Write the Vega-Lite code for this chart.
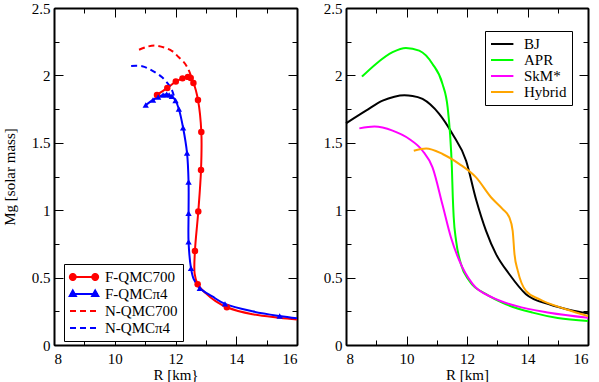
{
  "$schema": "https://vega.github.io/schema/vega-lite/v6.json",
  "padding": {"left": 1, "top": 0, "right": 5, "bottom": 2},
  "spacing": 20,
  "config": {
    "view": {"stroke": "black", "strokeWidth": 1},
    "legend": {"labelFont": "Liberation Serif", "labelFontSize": 15, "labelColor": "black"}
  },
  "datasets": {
    "qmc": [
      {"series": "F-QMC700", "i": 1, "R": 11.39, "M": 1.855},
      {"series": "F-QMC700", "i": 2, "R": 11.73, "M": 1.907},
      {"series": "F-QMC700", "i": 3, "R": 12.01, "M": 1.954},
      {"series": "F-QMC700", "i": 4, "R": 12.23, "M": 1.978},
      {"series": "F-QMC700", "i": 5, "R": 12.41, "M": 1.989},
      {"series": "F-QMC700", "i": 6, "R": 12.5, "M": 1.98},
      {"series": "F-QMC700", "i": 7, "R": 12.59, "M": 1.944},
      {"series": "F-QMC700", "i": 8, "R": 12.74, "M": 1.818},
      {"series": "F-QMC700", "i": 9, "R": 12.85, "M": 1.58},
      {"series": "F-QMC700", "i": 10, "R": 12.84, "M": 1.298},
      {"series": "F-QMC700", "i": 11, "R": 12.75, "M": 0.99},
      {"series": "F-QMC700", "i": 12, "R": 12.64, "M": 0.698},
      {"series": "F-QMC700", "i": 13, "R": 12.63, "M": 0.53},
      {"series": "F-QMC700", "i": 14, "R": 12.73, "M": 0.451},
      {"series": "F-QMC700", "i": 15, "R": 12.99, "M": 0.385},
      {"series": "F-QMC700", "i": 16, "R": 13.32, "M": 0.325},
      {"series": "F-QMC700", "i": 17, "R": 13.69, "M": 0.28},
      {"series": "F-QMC700", "i": 18, "R": 14.53, "M": 0.228},
      {"series": "F-QMC700", "i": 19, "R": 15.43, "M": 0.203},
      {"series": "F-QMC700", "i": 20, "R": 16, "M": 0.19},
      {"series": "F-QMCπ4", "i": 1, "R": 11.02, "M": 1.78},
      {"series": "F-QMCπ4", "i": 2, "R": 11.26, "M": 1.818},
      {"series": "F-QMCπ4", "i": 3, "R": 11.43, "M": 1.84},
      {"series": "F-QMCπ4", "i": 4, "R": 11.59, "M": 1.855},
      {"series": "F-QMCπ4", "i": 5, "R": 11.71, "M": 1.86},
      {"series": "F-QMCπ4", "i": 6, "R": 11.79, "M": 1.855},
      {"series": "F-QMCπ4", "i": 7, "R": 11.88, "M": 1.845},
      {"series": "F-QMCπ4", "i": 8, "R": 12.0, "M": 1.813},
      {"series": "F-QMCπ4", "i": 9, "R": 12.11, "M": 1.751},
      {"series": "F-QMCπ4", "i": 10, "R": 12.25, "M": 1.612},
      {"series": "F-QMCπ4", "i": 11, "R": 12.38, "M": 1.424},
      {"series": "F-QMCπ4", "i": 12, "R": 12.43, "M": 1.209},
      {"series": "F-QMCπ4", "i": 13, "R": 12.43, "M": 0.978},
      {"series": "F-QMCπ4", "i": 14, "R": 12.43, "M": 0.765},
      {"series": "F-QMCπ4", "i": 15, "R": 12.51, "M": 0.57},
      {"series": "F-QMCπ4", "i": 16, "R": 12.6, "M": 0.488},
      {"series": "F-QMCπ4", "i": 17, "R": 12.8, "M": 0.421},
      {"series": "F-QMCπ4", "i": 18, "R": 13.21, "M": 0.36},
      {"series": "F-QMCπ4", "i": 19, "R": 13.63, "M": 0.305},
      {"series": "F-QMCπ4", "i": 20, "R": 14.53, "M": 0.25},
      {"series": "F-QMCπ4", "i": 21, "R": 15.43, "M": 0.215},
      {"series": "F-QMCπ4", "i": 22, "R": 16, "M": 0.198},
      {"series": "N-QMC700", "i": 1, "R": 10.8, "M": 2.19},
      {"series": "N-QMC700", "i": 2, "R": 11.1, "M": 2.215},
      {"series": "N-QMC700", "i": 3, "R": 11.35, "M": 2.221},
      {"series": "N-QMC700", "i": 4, "R": 11.65, "M": 2.205},
      {"series": "N-QMC700", "i": 5, "R": 11.89, "M": 2.18},
      {"series": "N-QMC700", "i": 6, "R": 12.11, "M": 2.134},
      {"series": "N-QMC700", "i": 7, "R": 12.28, "M": 2.097},
      {"series": "N-QMC700", "i": 8, "R": 12.39, "M": 2.06},
      {"series": "N-QMC700", "i": 9, "R": 12.47, "M": 2.02},
      {"series": "N-QMC700", "i": 10, "R": 12.55, "M": 1.97},
      {"series": "N-QMCπ4", "i": 1, "R": 10.54, "M": 2.07},
      {"series": "N-QMCπ4", "i": 2, "R": 10.9, "M": 2.068},
      {"series": "N-QMCπ4", "i": 3, "R": 11.23, "M": 2.036},
      {"series": "N-QMCπ4", "i": 4, "R": 11.56, "M": 1.986},
      {"series": "N-QMCπ4", "i": 5, "R": 11.78, "M": 1.93},
      {"series": "N-QMCπ4", "i": 6, "R": 11.89, "M": 1.887},
      {"series": "N-QMCπ4", "i": 7, "R": 11.95, "M": 1.845}
    ],
    "qmcmk": [
      {"series": "F-QMC700", "R": 11.39, "M": 1.855},
      {"series": "F-QMC700", "R": 11.73, "M": 1.907},
      {"series": "F-QMC700", "R": 12.01, "M": 1.954},
      {"series": "F-QMC700", "R": 12.23, "M": 1.978},
      {"series": "F-QMC700", "R": 12.41, "M": 1.989},
      {"series": "F-QMC700", "R": 12.5, "M": 1.98},
      {"series": "F-QMC700", "R": 12.59, "M": 1.944},
      {"series": "F-QMC700", "R": 12.74, "M": 1.818},
      {"series": "F-QMC700", "R": 12.85, "M": 1.58},
      {"series": "F-QMC700", "R": 12.84, "M": 1.298},
      {"series": "F-QMC700", "R": 12.75, "M": 0.99},
      {"series": "F-QMC700", "R": 12.64, "M": 0.698},
      {"series": "F-QMC700", "R": 12.73, "M": 0.451},
      {"series": "F-QMC700", "R": 13.69, "M": 0.28},
      {"series": "F-QMCπ4", "R": 11.02, "M": 1.78},
      {"series": "F-QMCπ4", "R": 11.26, "M": 1.818},
      {"series": "F-QMCπ4", "R": 11.43, "M": 1.84},
      {"series": "F-QMCπ4", "R": 11.59, "M": 1.855},
      {"series": "F-QMCπ4", "R": 11.71, "M": 1.86},
      {"series": "F-QMCπ4", "R": 11.79, "M": 1.855},
      {"series": "F-QMCπ4", "R": 11.88, "M": 1.845},
      {"series": "F-QMCπ4", "R": 12.0, "M": 1.813},
      {"series": "F-QMCπ4", "R": 12.11, "M": 1.751},
      {"series": "F-QMCπ4", "R": 12.25, "M": 1.612},
      {"series": "F-QMCπ4", "R": 12.38, "M": 1.424},
      {"series": "F-QMCπ4", "R": 12.43, "M": 1.209},
      {"series": "F-QMCπ4", "R": 12.43, "M": 0.978},
      {"series": "F-QMCπ4", "R": 12.43, "M": 0.765},
      {"series": "F-QMCπ4", "R": 12.51, "M": 0.57},
      {"series": "F-QMCπ4", "R": 12.8, "M": 0.421},
      {"series": "F-QMCπ4", "R": 13.63, "M": 0.305},
      {"series": "F-QMCπ4", "R": 15.43, "M": 0.215}
    ],
    "eos": [
      {"eos": "BJ", "R": 8, "M": 1.644},
      {"eos": "BJ", "R": 8.66, "M": 1.738},
      {"eos": "BJ", "R": 9.21, "M": 1.813},
      {"eos": "BJ", "R": 9.6, "M": 1.842},
      {"eos": "BJ", "R": 9.93, "M": 1.852},
      {"eos": "BJ", "R": 10.2, "M": 1.848},
      {"eos": "BJ", "R": 10.53, "M": 1.825},
      {"eos": "BJ", "R": 11.08, "M": 1.714},
      {"eos": "BJ", "R": 11.52, "M": 1.565},
      {"eos": "BJ", "R": 11.97, "M": 1.367},
      {"eos": "BJ", "R": 12.3, "M": 1.08},
      {"eos": "BJ", "R": 12.63, "M": 0.847},
      {"eos": "BJ", "R": 12.96, "M": 0.674},
      {"eos": "BJ", "R": 13.4, "M": 0.525},
      {"eos": "BJ", "R": 13.95, "M": 0.377},
      {"eos": "BJ", "R": 14.72, "M": 0.302},
      {"eos": "BJ", "R": 15.4, "M": 0.26},
      {"eos": "BJ", "R": 16, "M": 0.235},
      {"eos": "APR", "R": 8.53, "M": 1.991},
      {"eos": "APR", "R": 8.99, "M": 2.085},
      {"eos": "APR", "R": 9.54, "M": 2.172},
      {"eos": "APR", "R": 9.98, "M": 2.204},
      {"eos": "APR", "R": 10.42, "M": 2.184},
      {"eos": "APR", "R": 10.86, "M": 2.085},
      {"eos": "APR", "R": 11.19, "M": 1.937},
      {"eos": "APR", "R": 11.36, "M": 1.763},
      {"eos": "APR", "R": 11.44, "M": 1.565},
      {"eos": "APR", "R": 11.5, "M": 1.317},
      {"eos": "APR", "R": 11.53, "M": 1.1},
      {"eos": "APR", "R": 11.56, "M": 0.95},
      {"eos": "APR", "R": 11.64, "M": 0.773},
      {"eos": "APR", "R": 11.8, "M": 0.6},
      {"eos": "APR", "R": 12.08, "M": 0.475},
      {"eos": "APR", "R": 12.63, "M": 0.377},
      {"eos": "APR", "R": 13.29, "M": 0.302},
      {"eos": "APR", "R": 14.17, "M": 0.24},
      {"eos": "APR", "R": 15, "M": 0.2},
      {"eos": "APR", "R": 16, "M": 0.178},
      {"eos": "SkM*", "R": 8.44, "M": 1.607},
      {"eos": "SkM*", "R": 8.94, "M": 1.62},
      {"eos": "SkM*", "R": 9.54, "M": 1.59},
      {"eos": "SkM*", "R": 10.09, "M": 1.528},
      {"eos": "SkM*", "R": 10.53, "M": 1.441},
      {"eos": "SkM*", "R": 10.86, "M": 1.317},
      {"eos": "SkM*", "R": 11.19, "M": 1.04},
      {"eos": "SkM*", "R": 11.47, "M": 0.797},
      {"eos": "SkM*", "R": 11.75, "M": 0.624},
      {"eos": "SkM*", "R": 12.19, "M": 0.451},
      {"eos": "SkM*", "R": 12.85, "M": 0.351},
      {"eos": "SkM*", "R": 13.62, "M": 0.29},
      {"eos": "SkM*", "R": 14.72, "M": 0.24},
      {"eos": "SkM*", "R": 16, "M": 0.203},
      {"eos": "Hybrid", "R": 10.24, "M": 1.441},
      {"eos": "Hybrid", "R": 10.65, "M": 1.458},
      {"eos": "Hybrid", "R": 11.19, "M": 1.417},
      {"eos": "Hybrid", "R": 11.75, "M": 1.342},
      {"eos": "Hybrid", "R": 12.3, "M": 1.243},
      {"eos": "Hybrid", "R": 12.8, "M": 1.094},
      {"eos": "Hybrid", "R": 13.18, "M": 1.008},
      {"eos": "Hybrid", "R": 13.4, "M": 0.946},
      {"eos": "Hybrid", "R": 13.51, "M": 0.847},
      {"eos": "Hybrid", "R": 13.57, "M": 0.674},
      {"eos": "Hybrid", "R": 13.68, "M": 0.55},
      {"eos": "Hybrid", "R": 13.95, "M": 0.401},
      {"eos": "Hybrid", "R": 14.39, "M": 0.34},
      {"eos": "Hybrid", "R": 15.27, "M": 0.265},
      {"eos": "Hybrid", "R": 16, "M": 0.215}
    ]
  },
  "resolve": {"scale": {"x": "independent", "y": "independent", "color": "independent"}, "legend": {"color": "independent"}},
  "hconcat": [
    {
      "width": 243,
      "height": 337,
      "resolve": {"axis": {"x": "independent", "y": "independent"}},
      "layer": [
        {
          "data": {"name": "qmc"},
          "transform": [{"filter": "indexof(datum.series, 'F-') === 0"}],
          "mark": {"type": "line", "strokeWidth": 2, "interpolate": "catmull-rom"},
          "encoding": {
            "x": {"field": "R", "type": "quantitative", "scale": {"domain": [8, 16], "nice": false, "zero": false},
              "axis": {"orient": "bottom", "values": [8, 10, 12, 14, 16], "format": "~g", "grid": false, "domain": true, "domainColor": "black", "domainWidth": 2, "ticks": true, "tickColor": "black", "tickWidth": 1, "tickSize": -9, "labelPadding": 15, "labelFont": "Liberation Serif", "labelFontSize": 15, "labelColor": "black", "title": "R [km}", "titlePadding": 1, "titleFont": "Liberation Serif", "titleFontSize": 15, "titleFontWeight": "normal", "titleColor": "black"}},
            "y": {"field": "M", "type": "quantitative", "scale": {"domain": [0, 2.5], "nice": false},
              "axis": {"orient": "left", "values": [0, 0.5, 1, 1.5, 2, 2.5], "format": "~g", "grid": false, "domain": true, "domainColor": "black", "domainWidth": 2, "ticks": true, "tickColor": "black", "tickWidth": 1, "tickSize": -9, "labelPadding": 13, "labelFont": "Liberation Serif", "labelFontSize": 15, "labelColor": "black", "title": "Mg [solar mass]", "titlePadding": 14, "titleFont": "Liberation Serif", "titleFontSize": 15, "titleFontWeight": "normal", "titleColor": "black"}},
            "order": {"field": "i", "type": "quantitative"},
            "color": {"field": "series", "type": "nominal",
              "scale": {"domain": ["F-QMC700", "F-QMCπ4", "N-QMC700", "N-QMCπ4"], "range": ["#ff0000", "#0000ff", "#ff0000", "#0000ff"]},
              "legend": {"orient": "none", "legendX": 10, "legendY": 256, "title": null, "strokeColor": "black", "fillColor": "white", "padding": 5, "symbolSize": 196, "symbolStrokeWidth": 2, "rowPadding": 1, "labelOffset": 20,
                "encode": {
                  "symbols": {"update": {
                  "shape": {"signal": "datum.value === 'F-QMC700' ? 'M-1,0H3M-0.18,0A0.42,0.42,0,1,1,-1.02,0A0.42,0.42,0,1,1,-0.18,0ZM3.02,0A0.42,0.42,0,1,1,2.18,0A0.42,0.42,0,1,1,3.02,0Z' : (datum.value === 'F-QMCπ4' ? 'M-1,0H3M-0.6,-0.5L-0.16,0.3L-1.04,0.3ZM2.6,-0.5L3.04,0.3L2.16,0.3Z' : 'M-1,0H3')"},
                  "strokeDash": {"signal": "indexof(datum.value, 'N-') === 0 ? [6, 4] : [1, 0]"},
                  "fill": {"signal": "indexof(datum.value, '700') > 0 ? '#ff0000' : '#0000ff'"}
                }}}}
            }
          }
        },
        {
          "data": {"name": "qmc"},
          "transform": [{"filter": "indexof(datum.series, 'N-') === 0"}],
          "mark": {"type": "line", "strokeWidth": 2, "strokeDash": [6, 4], "interpolate": "catmull-rom"},
          "encoding": {
            "x": {"field": "R", "type": "quantitative",
              "axis": {"orient": "bottom", "values": [9, 11, 13, 15], "grid": false, "domain": false, "ticks": true, "tickColor": "black", "tickWidth": 1, "tickSize": -5, "labels": false, "title": null}},
            "y": {"field": "M", "type": "quantitative",
              "axis": {"orient": "left", "values": [0.25, 0.75, 1.25, 1.75, 2.25], "grid": false, "domain": false, "ticks": true, "tickColor": "black", "tickWidth": 1, "tickSize": -5, "labels": false, "title": null}},
            "order": {"field": "i", "type": "quantitative"},
            "color": {"field": "series", "type": "nominal"}
          }
        },
        {
          "data": {"name": "qmcmk"},
          "transform": [{"filter": "datum.series === 'F-QMC700'"}],
          "mark": {"type": "point", "filled": true, "opacity": 1, "shape": "circle", "size": 42},
          "encoding": {
            "x": {"field": "R", "type": "quantitative",
              "axis": {"orient": "top", "values": [8, 10, 12, 14, 16], "grid": false, "domain": true, "domainColor": "black", "domainWidth": 2, "ticks": true, "tickColor": "black", "tickWidth": 1, "tickSize": -9, "labels": false, "title": null}},
            "y": {"field": "M", "type": "quantitative",
              "axis": {"orient": "right", "values": [0, 0.5, 1, 1.5, 2, 2.5], "grid": false, "domain": true, "domainColor": "black", "domainWidth": 2, "ticks": true, "tickColor": "black", "tickWidth": 1, "tickSize": -9, "labels": false, "title": null}},
            "color": {"field": "series", "type": "nominal"}
          }
        },
        {
          "data": {"name": "qmcmk"},
          "transform": [{"filter": "datum.series === 'F-QMCπ4'"}],
          "mark": {"type": "point", "filled": true, "opacity": 1, "shape": "triangle-up", "size": 40},
          "encoding": {
            "x": {"field": "R", "type": "quantitative",
              "axis": {"orient": "top", "values": [9, 11, 13, 15], "grid": false, "domain": false, "ticks": true, "tickColor": "black", "tickWidth": 1, "tickSize": -5, "labels": false, "title": null}},
            "y": {"field": "M", "type": "quantitative",
              "axis": {"orient": "right", "values": [0.25, 0.75, 1.25, 1.75, 2.25], "grid": false, "domain": false, "ticks": true, "tickColor": "black", "tickWidth": 1, "tickSize": -5, "labels": false, "title": null}},
            "color": {"field": "series", "type": "nominal"}
          }
        }
      ]
    },
    {
      "width": 242,
      "height": 337,
      "resolve": {"axis": {"x": "independent", "y": "independent"}},
      "layer": [
        {
          "data": {"name": "eos"},
          "transform": [{"filter": "datum.eos === 'BJ'"}],
          "mark": {"type": "line", "strokeWidth": 2, "interpolate": "monotone"},
          "encoding": {
            "x": {"field": "R", "type": "quantitative", "scale": {"domain": [8, 16], "nice": false, "zero": false},
              "axis": {"orient": "bottom", "values": [8, 10, 12, 14, 16], "format": "~g", "grid": false, "domain": true, "domainColor": "black", "domainWidth": 2, "ticks": true, "tickColor": "black", "tickWidth": 1, "tickSize": -9, "labelPadding": 15, "labelFont": "Liberation Serif", "labelFontSize": 15, "labelColor": "black", "title": "R [km]", "titlePadding": 1, "titleFont": "Liberation Serif", "titleFontSize": 15, "titleFontWeight": "normal", "titleColor": "black"}},
            "y": {"field": "M", "type": "quantitative", "scale": {"domain": [0, 2.5], "nice": false},
              "axis": {"orient": "left", "values": [0, 0.5, 1, 1.5, 2, 2.5], "format": "~g", "grid": false, "domain": true, "domainColor": "black", "domainWidth": 2, "ticks": true, "tickColor": "black", "tickWidth": 1, "tickSize": -9, "labelPadding": 13, "labelFont": "Liberation Serif", "labelFontSize": 15, "labelColor": "black", "title": null}},
            "color": {"field": "eos", "type": "nominal",
              "scale": {"domain": ["BJ", "APR", "SkM*", "Hybrid"], "range": ["#000000", "#00ff00", "#ff00ff", "#ffa500"]},
              "legend": {"orient": "none", "legendX": 139, "legendY": 23, "title": null, "strokeColor": "black", "fillColor": "white", "padding": 5, "symbolType": "M-1,0H2.2", "symbolSize": 196, "symbolStrokeWidth": 2, "rowPadding": 0, "labelOffset": 18}}
          }
        },
        {
          "data": {"name": "eos"},
          "transform": [{"filter": "datum.eos === 'APR'"}],
          "mark": {"type": "line", "strokeWidth": 2, "interpolate": "monotone"},
          "encoding": {
            "x": {"field": "R", "type": "quantitative",
              "axis": {"orient": "bottom", "values": [9, 11, 13, 15], "grid": false, "domain": false, "ticks": true, "tickColor": "black", "tickWidth": 1, "tickSize": -5, "labels": false, "title": null}},
            "y": {"field": "M", "type": "quantitative",
              "axis": {"orient": "left", "values": [0.25, 0.75, 1.25, 1.75, 2.25], "grid": false, "domain": false, "ticks": true, "tickColor": "black", "tickWidth": 1, "tickSize": -5, "labels": false, "title": null}},
            "color": {"field": "eos", "type": "nominal"}
          }
        },
        {
          "data": {"name": "eos"},
          "transform": [{"filter": "datum.eos === 'SkM*'"}],
          "mark": {"type": "line", "strokeWidth": 2, "interpolate": "monotone"},
          "encoding": {
            "x": {"field": "R", "type": "quantitative",
              "axis": {"orient": "top", "values": [8, 10, 12, 14, 16], "grid": false, "domain": true, "domainColor": "black", "domainWidth": 2, "ticks": true, "tickColor": "black", "tickWidth": 1, "tickSize": -9, "labels": false, "title": null}},
            "y": {"field": "M", "type": "quantitative",
              "axis": {"orient": "right", "values": [0, 0.5, 1, 1.5, 2, 2.5], "grid": false, "domain": true, "domainColor": "black", "domainWidth": 2, "ticks": true, "tickColor": "black", "tickWidth": 1, "tickSize": -9, "labels": false, "title": null}},
            "color": {"field": "eos", "type": "nominal"}
          }
        },
        {
          "data": {"name": "eos"},
          "transform": [{"filter": "datum.eos === 'Hybrid'"}],
          "mark": {"type": "line", "strokeWidth": 2, "interpolate": "monotone"},
          "encoding": {
            "x": {"field": "R", "type": "quantitative",
              "axis": {"orient": "top", "values": [9, 11, 13, 15], "grid": false, "domain": false, "ticks": true, "tickColor": "black", "tickWidth": 1, "tickSize": -5, "labels": false, "title": null}},
            "y": {"field": "M", "type": "quantitative",
              "axis": {"orient": "right", "values": [0.25, 0.75, 1.25, 1.75, 2.25], "grid": false, "domain": false, "ticks": true, "tickColor": "black", "tickWidth": 1, "tickSize": -5, "labels": false, "title": null}},
            "color": {"field": "eos", "type": "nominal"}
          }
        }
      ]
    }
  ]
}
